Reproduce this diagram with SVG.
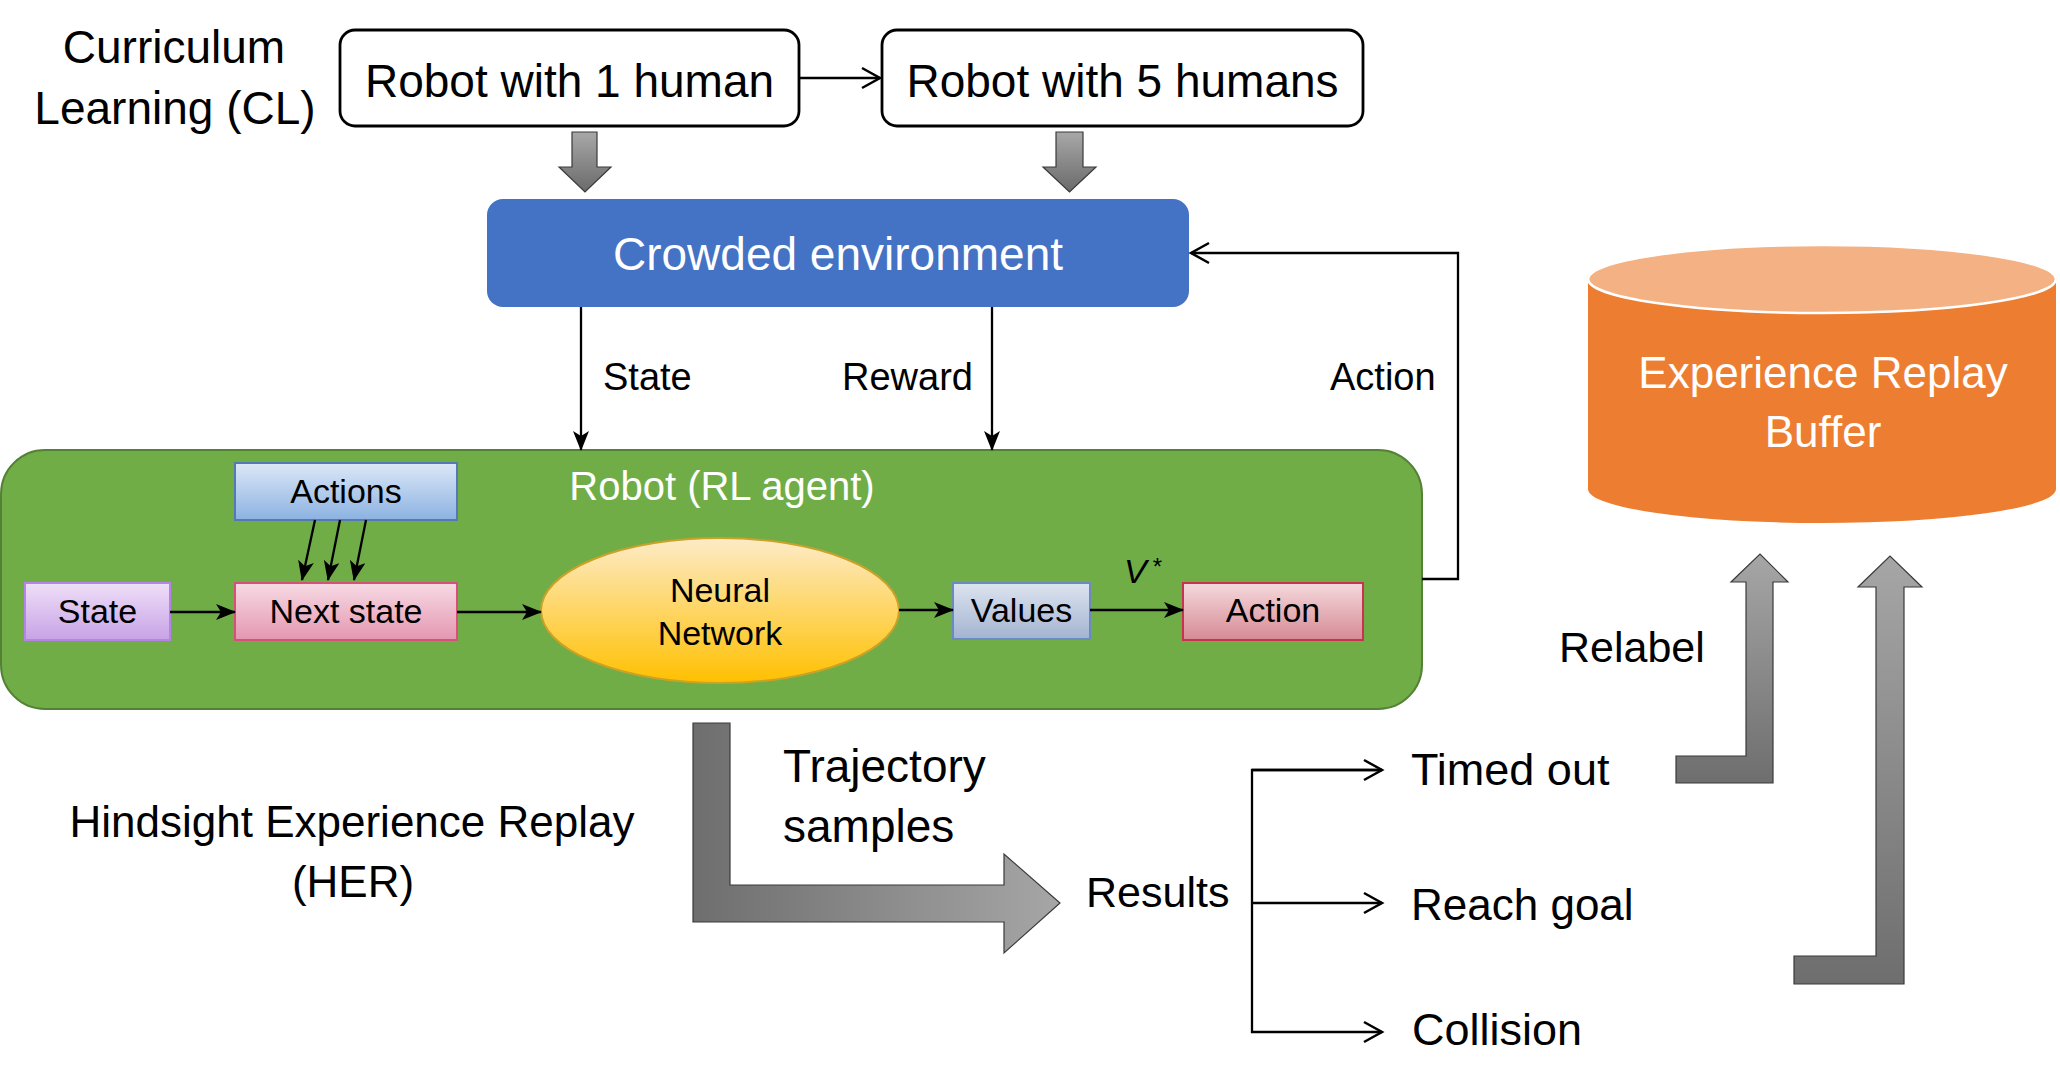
<svg xmlns="http://www.w3.org/2000/svg" width="2060" height="1088" viewBox="0 0 2060 1088">
<style>
text{font-family:"Liberation Sans","Noto Sans",sans-serif;fill:#000}
.big{font-size:46px}
.lbl{font-size:38px}
.box{font-size:34px;text-anchor:middle}
.w{fill:#fff}
.ln{stroke:#000;stroke-width:2.3;fill:none}
.blk{stroke:#3a3a3a;stroke-width:1.2}
</style>
<defs>
<marker id="chev" markerUnits="userSpaceOnUse" markerWidth="24" markerHeight="24" viewBox="0 0 24 24" refX="21" refY="12" orient="auto">
<path d="M3,2 L21,12 L3,22" fill="none" stroke="#000" stroke-width="2.5"/>
</marker>
<marker id="tri" markerUnits="userSpaceOnUse" markerWidth="20" markerHeight="16" viewBox="0 0 20 16" refX="19" refY="8" orient="auto">
<path d="M0,0 L20,8 L0,16 L5,8 z" fill="#000"/>
</marker>
<linearGradient id="gDown" x1="0" y1="0" x2="0" y2="1"><stop offset="0" stop-color="#a8a8a8"/><stop offset="1" stop-color="#6a6a6a"/></linearGradient>
<linearGradient id="gUp" x1="0" y1="1" x2="0" y2="0"><stop offset="0" stop-color="#6e6e6e"/><stop offset="1" stop-color="#a6a6a6"/></linearGradient>
<linearGradient id="gRight" x1="0" y1="0" x2="1" y2="0"><stop offset="0" stop-color="#6e6e6e"/><stop offset="1" stop-color="#a6a6a6"/></linearGradient>
<linearGradient id="gActs" x1="0" y1="0" x2="0" y2="1"><stop offset="0" stop-color="#dce8f7"/><stop offset="1" stop-color="#8cb2e2"/></linearGradient>
<linearGradient id="gState" x1="0" y1="0" x2="0" y2="1"><stop offset="0" stop-color="#efdff8"/><stop offset="1" stop-color="#c7a2e6"/></linearGradient>
<linearGradient id="gNext" x1="0" y1="0" x2="0" y2="1"><stop offset="0" stop-color="#f7dbe4"/><stop offset="1" stop-color="#e496b0"/></linearGradient>
<linearGradient id="gVal" x1="0" y1="0" x2="0" y2="1"><stop offset="0" stop-color="#dde4f0"/><stop offset="1" stop-color="#a3b3d0"/></linearGradient>
<linearGradient id="gAct" x1="0" y1="0" x2="0" y2="1"><stop offset="0" stop-color="#f5d9dd"/><stop offset="1" stop-color="#d68a94"/></linearGradient>
<linearGradient id="gNN" x1="0" y1="0" x2="0" y2="1"><stop offset="0" stop-color="#fdebc8"/><stop offset="1" stop-color="#ffc000"/></linearGradient>
</defs>

<g id="cl-label">
<text class="big" x="174" y="63" text-anchor="middle" font-size="44">Curriculum</text>
<text class="big" x="175" y="124" text-anchor="middle" font-size="44">Learning (CL)</text>
</g>

<g id="robot1">
<rect x="340" y="30" width="459" height="96" rx="15" fill="#fff" stroke="#000" stroke-width="2.8"/>
<text class="big" x="569.5" y="97" text-anchor="middle">Robot with 1 human</text>
</g>

<g id="robot5">
<rect x="882" y="30" width="481" height="96" rx="15" fill="#fff" stroke="#000" stroke-width="2.8"/>
<text class="big" x="1122.5" y="97" text-anchor="middle">Robot with 5 humans</text>
</g>

<g id="env">
<rect x="487" y="199" width="702" height="108" rx="16" fill="#4472c4"/>
<text class="big w" x="838" y="270" text-anchor="middle" font-size="47">Crowded environment</text>
</g>

<g id="robot-agent">
<rect x="1" y="450" width="1421" height="259" rx="44" fill="#70ad47" stroke="#548235" stroke-width="2"/>
<text class="w" x="722" y="500" text-anchor="middle" font-size="40">Robot (RL agent)</text>
</g>

<g id="actions">
<rect x="235" y="463" width="222" height="57" fill="url(#gActs)" stroke="#5579b3" stroke-width="2"/>
<text class="box" x="346" y="503">Actions</text>
</g>

<g id="state">
<rect x="25" y="583" width="145" height="57" fill="url(#gState)" stroke="#b684e6" stroke-width="2"/>
<text class="box" x="97.5" y="623">State</text>
</g>

<g id="next-state">
<rect x="235" y="583" width="222" height="57" fill="url(#gNext)" stroke="#d6507c" stroke-width="2"/>
<text class="box" x="346" y="623">Next state</text>
</g>

<g id="neural-network">
<ellipse cx="720" cy="610.5" rx="179" ry="72.5" fill="url(#gNN)" stroke="#c9a227" stroke-width="2"/>
<text class="box" x="720" y="602">Neural</text>
<text class="box" x="720" y="645">Network</text>
</g>

<g id="values">
<rect x="953" y="583" width="137" height="56" fill="url(#gVal)" stroke="#6a8bc2" stroke-width="2"/>
<text class="box" x="1021.5" y="622">Values</text>
</g>

<g id="action">
<rect x="1183" y="583" width="180" height="57" fill="url(#gAct)" stroke="#c8334f" stroke-width="2"/>
<text class="box" x="1273" y="622">Action</text>
</g>

<g id="buffer">
<path d="M1588,279 L1588,489 A234,34 0 0 0 2056,489 L2056,279 Z" fill="#ed7d31"/>
<ellipse cx="1822" cy="279" rx="234" ry="34" fill="#f4b183" stroke="#fff" stroke-width="2.5"/>
<text class="w" x="1823" y="388" text-anchor="middle" font-size="44">Experience Replay</text>
<text class="w" x="1823" y="447" text-anchor="middle" font-size="44">Buffer</text>
</g>

<g id="her-label">
<text x="352" y="837" text-anchor="middle" font-size="44">Hindsight Experience Replay</text>
<text x="353" y="897" text-anchor="middle" font-size="44">(HER)</text>
</g>

<g id="results">
<text x="1086" y="907" font-size="43">Results</text>
</g>
<g id="timed-out"><text x="1411" y="785" font-size="45">Timed out</text></g>
<g id="reach-goal"><text x="1411" y="920" font-size="44">Reach goal</text></g>
<g id="collision"><text x="1412" y="1045" font-size="45">Collision</text></g>

<g id="connectors">
<line class="ln" x1="799" y1="78" x2="880" y2="78" marker-end="url(#chev)"/>
<path class="blk" d="M572,132 H597 V167 H611 L585,192 L559,167 H572 Z" fill="url(#gDown)"/>
<path class="blk" d="M1056,132 H1083 V167 H1096 L1069.5,192 L1043,167 H1056 Z" fill="url(#gDown)"/>
<line class="ln" x1="581" y1="307" x2="581" y2="450" marker-end="url(#tri)"/>
<text class="lbl" x="603" y="390">State</text>
<line class="ln" x1="992" y1="307" x2="992" y2="450" marker-end="url(#tri)"/>
<text class="lbl" x="842" y="390">Reward</text>
<path class="ln" d="M1422,579 H1458 V253 H1191" marker-end="url(#chev)"/>
<text class="lbl" x="1330" y="390">Action</text>

<line class="ln" x1="315" y1="520" x2="302" y2="580" marker-end="url(#tri)"/>
<line class="ln" x1="340" y1="520" x2="328" y2="580" marker-end="url(#tri)"/>
<line class="ln" x1="366" y1="520" x2="354" y2="580" marker-end="url(#tri)"/>
<line class="ln" x1="170" y1="612" x2="235" y2="612" marker-end="url(#tri)"/>
<line class="ln" x1="457" y1="612" x2="541" y2="612" marker-end="url(#tri)"/>
<line class="ln" x1="899" y1="610" x2="953" y2="610" marker-end="url(#tri)"/>
<line class="ln" x1="1090" y1="610" x2="1183" y2="610" marker-end="url(#tri)"/>
<text x="1124" y="583" font-family="Liberation Serif,serif" font-style="italic" font-size="34">V<tspan font-size="24" font-style="normal" dx="6" dy="-8">*</tspan></text>

<path class="blk" d="M693,723 H730 V885 H1004 V854 L1060,903 L1004,953 V922 H693 Z" fill="url(#gRight)"/>
<text x="783" y="782" font-size="46">Trajectory</text>
<text x="783" y="842" font-size="46">samples</text>

<path class="ln" d="M1382,770 H1252 V1032 H1382" marker-end="url(#chev)"/>
<line class="ln" x1="1252" y1="770" x2="1382" y2="770" marker-end="url(#chev)"/>
<line class="ln" x1="1252" y1="903" x2="1382" y2="903" marker-end="url(#chev)"/>

<path class="blk" d="M1676,756 H1746 V582 H1731 L1760,554 L1788,582 H1773 V783 H1676 Z" fill="url(#gUp)"/>
<path class="blk" d="M1794,956 H1876 V587 H1858 L1890,556 L1922,587 H1904 V984 H1794 Z" fill="url(#gUp)"/>
<text x="1559" y="662" font-size="43">Relabel</text>
</g>
</svg>
